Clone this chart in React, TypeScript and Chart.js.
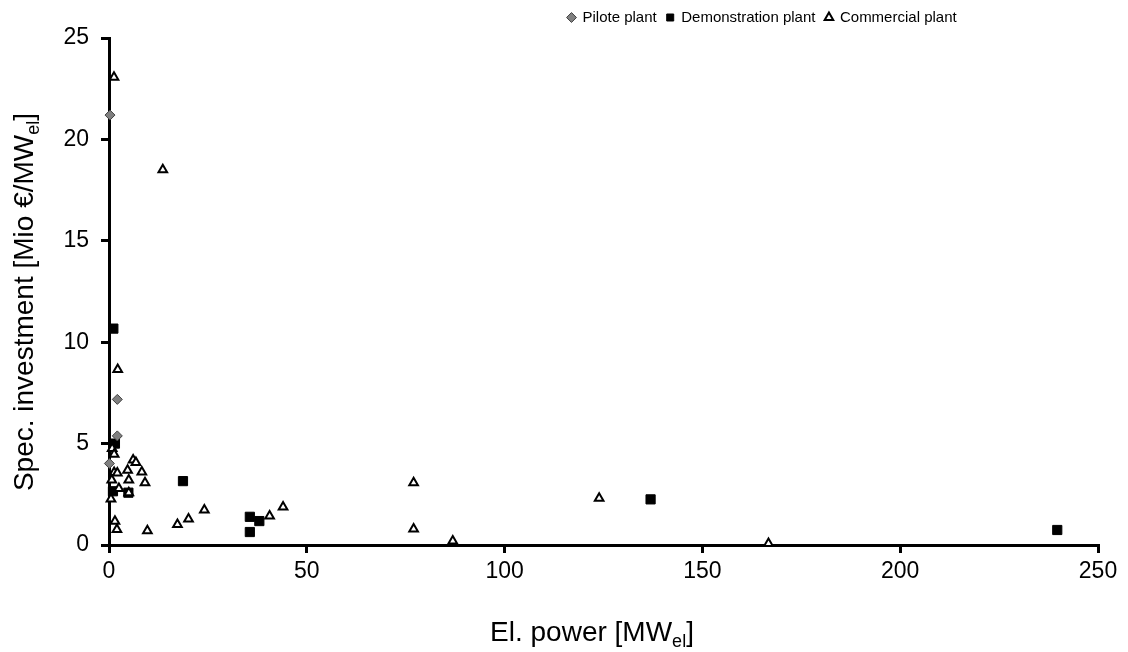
import React, { useEffect, useRef } from 'react';
import { Chart, registerables } from 'chart.js';

Chart.register(...registerables);

// ---- Data ----
const pilotX = [0.25, 2.1, 2.1, 0.1];
const pilotY = [21.2, 7.18, 5.38, 4.02];

const demoX = [1.1, 1.5, 1.0, 4.9, 18.7, 35.6, 38.0, 35.6, 136.9, 239.7];
const demoY = [10.67, 5.0, 2.65, 2.58, 3.15, 1.39, 1.18, 0.64, 2.25, 0.74];

const commX = [
  1.26, 13.6, 2.2, 0.8, 1.3, 6.1, 6.8, 1.3, 2.1, 4.7, 8.3, 0.7, 5.0, 9.1, 2.5, 5.0, 0.5,
  24.1, 20.1, 17.3, 1.5, 2.0, 9.7, 40.6, 44.0, 77.0, 77.0, 86.9, 123.9, 166.7,
];
const commY = [
  23.07, 18.5, 8.66, 4.76, 4.48, 4.19, 4.07, 3.58, 3.55, 3.69, 3.6, 3.2, 3.2, 3.07, 2.79, 2.58, 2.27,
  1.72, 1.28, 1.01, 1.17, 0.77, 0.7, 1.43, 1.87, 3.07, 0.79, 0.2, 2.3, 0.08,
];

const seriesNames = ['Pilote plant', 'Demonstration plant', 'Commercial plant'];
const xTickValues = [0, 50, 100, 150, 200, 250];
const yTickValues = [0, 5, 10, 15, 20, 25];
const xTitleParts = ['El. power [MW', 'el', ']'];
const yTitleParts = ['Spec. investment [Mio €/MW', 'el', ']'];

const FONT = '"Liberation Sans", Arial, sans-serif';

function toPoints(xs: number[], ys: number[]) {
  return xs.map((x, i) => ({ x, y: ys[i] }));
}

function drawSubText(
  ctx: CanvasRenderingContext2D,
  parts: string[],
  cx: number,
  cy: number,
  size: number,
  rot: number
) {
  const mainFont = `${size}px ${FONT}`;
  const subFont = `${Math.round(size * 0.66)}px ${FONT}`;
  ctx.save();
  ctx.translate(cx, cy);
  ctx.rotate(rot);
  ctx.fillStyle = '#000';
  ctx.textBaseline = 'alphabetic';
  ctx.textAlign = 'left';
  const widths = parts.map((p, i) => {
    ctx.font = i % 2 ? subFont : mainFont;
    return ctx.measureText(p).width;
  });
  const total = widths.reduce((a, b) => a + b, 0);
  let x = -total / 2;
  parts.forEach((p, i) => {
    ctx.font = i % 2 ? subFont : mainFont;
    ctx.fillText(p, x, i % 2 ? size * 0.22 : 0);
    x += widths[i];
  });
  ctx.restore();
}

const titlesPlugin = {
  id: 'customTitles',
  beforeDraw(chart: any) {
    if (chart.legend) {
      chart.legend.left = 558;
      chart.legend.right = chart.width;
      chart.legend.top = chart.legend.top - 3;
    }
  },
  afterDraw(chart: any) {
    const ctx = chart.ctx as CanvasRenderingContext2D;
    drawSubText(ctx, xTitleParts, 592, 641, 28, 0);
    drawSubText(ctx, yTitleParts, 33, 302, 28, -Math.PI / 2);
  },
};

export default function App() {
  const ref = useRef<HTMLCanvasElement | null>(null);

  useEffect(() => {
    if (!ref.current) return;
    const chart = new Chart(ref.current, {
      type: 'scatter',
      data: {
        datasets: [
          {
            label: seriesNames[0],
            data: toPoints(pilotX, pilotY),
            pointStyle: 'rectRot',
            pointRadius: 5,
            pointBackgroundColor: '#808080',
            pointBorderColor: '#404040',
            pointBorderWidth: 1,
            backgroundColor: '#808080',
            borderColor: '#404040',
            borderWidth: 1,
            clip: false,
            order: 0,
          },
          {
            label: seriesNames[1],
            data: toPoints(demoX, demoY),
            pointStyle: 'rect',
            pointRadius: 6.5,
            pointBackgroundColor: '#000',
            pointBorderColor: '#000',
            pointBorderWidth: 1,
            backgroundColor: '#000',
            borderColor: '#000',
            borderWidth: 1,
            clip: false,
            order: 2,
          },
          {
            label: seriesNames[2],
            data: toPoints(commX, commY),
            pointStyle: 'triangle',
            pointRadius: 5,
            pointBackgroundColor: '#fff',
            pointBorderColor: '#000',
            pointBorderWidth: 2,
            backgroundColor: '#fff',
            borderColor: '#000',
            borderWidth: 2,
            clip: false,
            order: 1,
          },
        ],
      },
      options: {
        animation: false,
        responsive: false,
        layout: { padding: { top: 3, right: 30, left: 0, bottom: 0 } },
        plugins: {
          tooltip: { enabled: false },
          legend: {
            display: true,
            position: 'top',
            align: 'start',
            labels: {
              usePointStyle: true,
              boxHeight: 7,
              boxWidth: 7,
              padding: 10,
              color: '#000',
              font: { family: FONT, size: 15 },
              sort: (a: any, b: any) => a.datasetIndex - b.datasetIndex,
            },
          },
        },
        scales: {
          x: {
            type: 'linear',
            min: 0,
            max: 250,
            afterFit: (s: any) => {
              s.height = 107;
            },
            afterBuildTicks: (s: any) => {
              s.ticks = xTickValues.map((v) => ({ value: v }));
            },
            border: { display: true, color: '#000', width: 3 },
            grid: {
              display: true,
              drawOnChartArea: false,
              drawTicks: true,
              tickLength: 8,
              color: '#000',
              lineWidth: 3,
            },
            ticks: {
              color: '#000',
              padding: 5,
              font: { family: FONT, size: 23 },
              maxRotation: 0,
            },
            title: { display: false },
          },
          y: {
            type: 'linear',
            min: 0,
            max: 25,
            afterFit: (s: any) => {
              s.width = 109;
            },
            afterBuildTicks: (s: any) => {
              s.ticks = yTickValues.map((v) => ({ value: v }));
            },
            border: { display: true, color: '#000', width: 3 },
            grid: {
              display: true,
              drawOnChartArea: false,
              drawTicks: true,
              tickLength: 8,
              color: '#000',
              lineWidth: 3,
            },
            ticks: {
              color: '#000',
              padding: 12,
              font: { family: FONT, size: 23 },
            },
            title: { display: false },
          },
        },
      },
      plugins: [titlesPlugin],
    } as any);
    return () => chart.destroy();
  }, []);

  return (
    <div style={{ position: 'fixed', left: 0, top: 0, width: 1128, height: 652, background: '#fff' }}>
      <canvas ref={ref} width={1128} height={652} style={{ display: 'block' }} />
    </div>
  );
}
